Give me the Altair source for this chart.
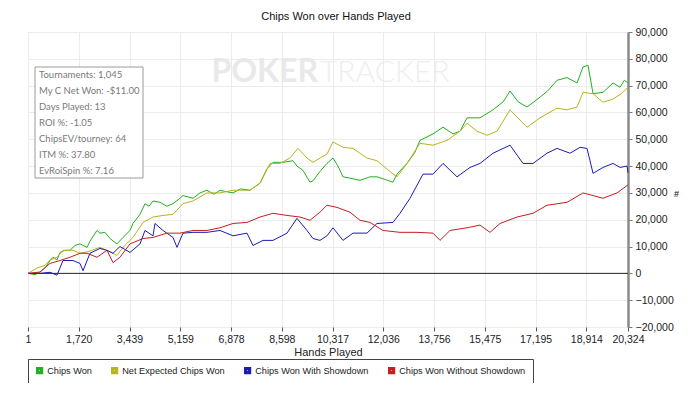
import altair as alt
import pandas as pd

title_text = "Chips Won over Hands Played"
series_names = ["Chips Won", "Net Expected Chips Won", "Chips Won With Showdown", "Chips Won Without Showdown"]
series_colors = ["#22b022", "#b8b41e", "#1c1cb4", "#c41e22"]

x_ticks = [1, 1720, 3439, 5159, 6878, 8598, 10317, 12036, 13756, 15475, 17195, 18914, 20324]
y_ticks = list(range(-20000, 90001, 10000))

green_hands = [1, 238, 407, 577, 746, 848, 983, 1085, 1254, 1423, 1593, 1762, 2000, 2101, 2338, 2440, 2609, 2778,
               3015, 3219, 3456, 3557, 3794, 3964, 4100, 4235, 4472, 4700, 4912, 5149, 5251, 5590, 5827, 6064,
               6300, 6504, 6700, 6944, 7200, 7520, 7859, 8096, 8299, 8637, 8976, 9112, 9315, 9552, 9654, 9891,
               10128, 10331, 10500, 10670, 10908, 11246, 11584, 11822, 12100, 12364, 12499, 12838, 13100, 13279,
               13719, 14058, 14397, 14634, 14871, 15312, 15752, 16100, 16328, 16600, 16904, 17344, 17600, 17920,
               18259, 18598, 18801, 18970, 19140, 19478, 19817, 20055, 20200, 20324]
green_k = [0, -0.5, 0.5, 2, 4.8, 6, 5, 7.8, 8.6, 8.6, 10.4, 11, 9.7, 12, 16, 15, 15.3, 13,
           11, 13.4, 16, 18.6, 22, 26, 25, 27, 26.5, 25, 26, 28, 29, 28, 30, 31,
           29.5, 31, 30.5, 30, 31.5, 31, 33.6, 39, 41.4, 41.4, 42, 40, 38.4, 34, 34.5, 38,
           41, 43, 40, 36, 35.5, 34.7, 36, 36, 35, 34, 37, 41, 45, 49.6,
           52, 54.5, 52, 53, 58, 58, 61, 64, 68, 64, 62, 65.7, 68, 72,
           73, 71, 77, 77.6, 67, 67.5, 71, 69.4, 72, 71]

yellow_hands = [1, 306, 577, 746, 983, 1186, 1525, 1762, 2000, 2440, 2778, 3015, 3219, 3557, 3896, 4235, 4573,
                4912, 5251, 5590, 6064, 6504, 6944, 7520, 7859, 8197, 8536, 8875, 9146, 9451, 9654, 9891,
                10128, 10331, 10670, 11009, 11483, 11822, 12262, 12499, 12838, 13279, 13719, 14193, 14634,
                14871, 15210, 15549, 15888, 16328, 16904, 17344, 17920, 18259, 18598, 18801, 19140, 19478,
                19817, 20100, 20292, 20324]
yellow_k = [0, 2, 3, 5, 6, 8.6, 8.6, 7.5, 8, 9.7, 8, 6.7, 9.7, 13.4, 19, 21, 21.6,
            22, 26, 27, 30, 30, 31, 31, 33.6, 41, 41, 43, 46.6, 43, 41.4, 43,
            44.5, 49, 47, 46.6, 43, 42, 38, 36, 41, 48.5, 47.8, 49.6, 53,
            56, 53, 51.5, 53, 61, 54.5, 58, 61.6, 61, 62, 67.5, 67, 63.8,
            65, 67, 69, 68]

blue_hands = [1, 407, 746, 983, 1186, 1525, 1762, 1864, 2101, 2440, 2677, 2880, 3117, 3456, 3794, 3964, 4235,
              4302, 4573, 4912, 5048, 5251, 5590, 6064, 6504, 6944, 7419, 7622, 7960, 8299, 8773, 9112, 9451,
              9654, 9891, 10128, 10331, 10670, 11009, 11483, 11822, 12364, 12601, 12940, 13380, 13719, 14058,
              14532, 14973, 15312, 15752, 16328, 16768, 17107, 17581, 17920, 18361, 18699, 18936, 19140,
              19478, 19817, 20055, 20292, 20324]
blue_k = [0, 0, 0.4, -0.7, 4.8, 4.8, 3.7, 1, 7.5, 9.3, 8.6, 7.5, 10, 7.8, 11, 16, 14,
          18.6, 16, 13.4, 9.7, 15, 15.3, 15.3, 16, 14, 15, 10.4, 12.3, 12.3, 15, 20.5, 16,
          13, 12.3, 14, 17, 12.3, 15, 15, 18.6, 19, 22.4, 28, 37, 37, 41,
          36, 39.5, 41, 44.8, 47.8, 41, 41, 44.8, 46.6, 44.8, 47, 46.6, 37.3,
          39.5, 41, 39.5, 40, 37.5]

red_hands = [1, 407, 746, 1085, 1423, 1762, 2000, 2338, 2677, 2880, 3117, 3456, 3896, 4235, 4709, 5149, 5590,
             6064, 6504, 6944, 7419, 7859, 8299, 8773, 9214, 9552, 9891, 10128, 10467, 10908, 11246, 11584,
             12025, 12601, 13177, 13719, 13956, 14295, 14871, 15312, 15650, 15989, 16565, 17107, 17581,
             18259, 18801, 19140, 19478, 19953, 20324]
red_k = [0, 0.5, 3.7, 4.8, 6, 7.5, 7.5, 6, 8.6, 4, 6, 11, 13, 13.4, 15, 15, 16,
         16, 17, 18.6, 19, 21, 22.4, 21.6, 21, 19.8, 22.8, 25.4, 24.6, 22.8, 19.8, 19,
         16, 15.3, 15.3, 15, 12.3, 16, 17, 18, 15.3, 18.6, 21, 22.4, 25.4,
         26.5, 30, 29, 28, 30, 33]

stats_lines = ["Tournaments: 1,045", "My C Net Won: -$11.00", "Days Played: 13", "ROI %: -1.05",
               "ChipsEV/tourney: 64", "ITM %: 37.80", "EvRoiSpin %: 7.16"]

rows = []
for name, hs, ks in zip(series_names,
                        [green_hands, yellow_hands, blue_hands, red_hands],
                        [green_k, yellow_k, blue_k, red_k]):
    for h, k in zip(hs, ks):
        rows.append({"series": name, "hand": h, "chips": k * 1000})
df = pd.DataFrame(rows)

FONT = "Liberation Sans"

xscale = alt.Scale(domain=[1, 20324], nice=False, zero=False)
yscale = alt.Scale(domain=[-20000, 90000], nice=False, zero=False)
color_scale = alt.Scale(domain=series_names, range=series_colors)

xax = alt.Axis(values=x_ticks, format=",d", grid=True, gridColor="#ececec", domain=False,
               tickColor="#555", tickSize=4, labelPadding=3, labelFontSize=10.5, labelColor="#222",
               labelFont=FONT, labelFlush=False, labelOverlap=False, labelBound=False,
               title="Hands Played", titleFont=FONT, titleFontSize=11,
               titleFontWeight="normal", titleColor="#222", titlePadding=2)
yax = alt.Axis(orient="right", values=y_ticks, format=",d", grid=True, gridColor="#ececec",
               domain=True, domainColor="#8a8a8a", domainWidth=2.5, tickColor="#777", tickSize=4,
               labelPadding=3, labelFontSize=10.5, labelColor="#222", labelFont=FONT,
               labelFlush=False, labelOverlap=False, labelBound=False,
               title="#", titleAngle=0, titleFont=FONT, titleFontSize=9, titleFontWeight="bold",
               titleColor="#333", titleX=48, titleY=161, titleAlign="center", titleBaseline="middle")

wm_poker = alt.Chart(pd.DataFrame({"t": ["POKER"]})).mark_text(
    font="Lato", fontSize=32, fontWeight="bold", color="#e9e9e9", align="right", baseline="alphabetic"
).encode(text="t:N", x=alt.value(290), y=alt.value(50))
wm_tracker = alt.Chart(pd.DataFrame({"t": ["TRACKER"]})).mark_text(
    font="Lato", fontSize=30, fontWeight=300, color="#eeeeee", align="left", baseline="alphabetic"
).encode(text="t:N", x=alt.value(292), y=alt.value(50))

stats_box = alt.Chart(pd.DataFrame({"a": [0]})).mark_rect(
    fill="white", stroke="#9a9a9a", strokeWidth=1
).encode(x=alt.value(7), x2=alt.value(115), y=alt.value(35), y2=alt.value(146))
stats_text = alt.Chart(pd.DataFrame({"t": ["\n".join(stats_lines)]})).mark_text(
    font="Lato", fontSize=9.5, color="#7a7a7a", align="left", baseline="top", lineBreak="\n", lineHeight=16
).encode(text="t:N", x=alt.value(11), y=alt.value(38))

zero_rule = alt.Chart(pd.DataFrame({"chips": [0]})).mark_rule(color="#222", strokeWidth=1).encode(
    y=alt.Y("chips:Q", scale=yscale, axis=yax)
)

lines = alt.Chart(df).mark_line(strokeWidth=1, interpolate="linear").encode(
    x=alt.X("hand:Q", scale=xscale, axis=xax),
    y=alt.Y("chips:Q", scale=yscale, axis=yax),
    color=alt.Color("series:N", scale=color_scale, sort=series_names,
                    legend=alt.Legend(orient="none", legendX=0, legendY=327, direction="horizontal",
                                      columns=4, title=None, strokeColor="#444", fillColor="white",
                                      padding=7, columnPadding=14, symbolType="square", symbolSize=16,
                                      symbolStrokeWidth=3.2, symbolOpacity=1,
                                      labelFont=FONT, labelFontSize=9.2, labelColor="#222",
                                      labelOffset=3)),
    order=alt.Order("hand:Q"),
)

chart = alt.layer(
    wm_poker, wm_tracker, zero_rule, lines, stats_box, stats_text
).properties(
    width=600, height=295,
    title=alt.Title(title_text, font=FONT, fontSize=11, fontWeight="normal", color="#111",
                    anchor="middle", offset=5, dx=8),
    autosize=alt.AutoSizeParams(type="none"),
    padding={"left": 20, "top": 24, "right": 64, "bottom": 56},
).configure_view(
    stroke="#444", strokeWidth=1.5
).configure(background="white")

chart.save("out.html", embed_options={"renderer": "svg", "actions": False})
